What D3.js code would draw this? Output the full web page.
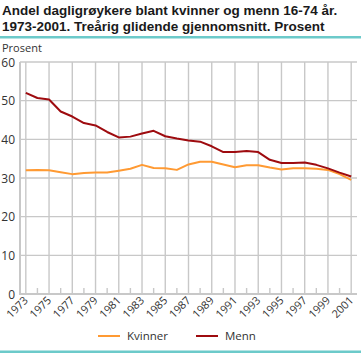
<!DOCTYPE html>
<html>
<head>
<meta charset="utf-8">
<script src="https://cdn.jsdelivr.net/npm/d3@7"></script>
<style>
  body { margin: 0; background: #fff; }
  text { font-family: "Open Sans", "DejaVu Sans", sans-serif; }
  text.title { font-family: "Liberation Sans", Arial, sans-serif; }
</style>
</head>
<body>
<div id="chart"></div>
<script>
// Data
var years = d3.range(1973, 2002);
var kvinner = [32.0, 32.1, 32.0, 31.5, 31.0, 31.3, 31.4, 31.4, 31.9, 32.4,
               33.4, 32.6, 32.5, 32.1, 33.5, 34.2, 34.2, 33.5, 32.8, 33.3,
               33.3, 32.7, 32.2, 32.5, 32.5, 32.4, 32.1, 31.0, 29.5];
var menn = [52.0, 50.7, 50.3, 47.2, 45.9, 44.2, 43.6, 41.9, 40.5, 40.7,
            41.5, 42.2, 40.8, 40.2, 39.7, 39.4, 38.2, 36.7, 36.7, 37.0,
            36.7, 34.7, 33.9, 33.9, 34.0, 33.4, 32.5, 31.4, 30.4];
var yTicks = [0, 10, 20, 30, 40, 50, 60];
var series = [
  { name: "Kvinner", values: kvinner, color: "#ff9a33" },
  { name: "Menn", values: menn, color: "#9e0b0f" }
];

var width = 361, height = 353;
var svg = d3.select("#chart").append("svg")
  .attr("width", width)
  .attr("height", height);

// Title
var title = svg.append("text").attr("class", "title")
  .attr("font-size", 13.5).attr("font-weight", "bold").attr("fill", "#1a1a1a");
title.append("tspan").attr("x", 2).attr("y", 15).text("Andel dagligrøykere blant kvinner og menn 16-74 år.");
title.append("tspan").attr("x", 2).attr("y", 31).text("1973-2001. Treårig glidende gjennomsnitt. Prosent");

// teal rules top and bottom
svg.append("rect").attr("x", 0).attr("y", 36).attr("width", width).attr("height", 2.5).attr("fill", "#6ccaca");
svg.append("rect").attr("x", 0).attr("y", 350.5).attr("width", width).attr("height", 2.5).attr("fill", "#6ccaca");

// scales
var x = d3.scaleLinear().domain([1972.5, 2001.5]).range([20, 357]);
var y = d3.scaleLinear().domain([0, 60]).range([294, 62]);

var grid = "#c8c8c8";

// horizontal grid
svg.append("g").selectAll("line").data(yTicks).enter().append("line")
  .attr("x1", 20).attr("x2", 357)
  .attr("y1", function(d){ return y(d); })
  .attr("y2", function(d){ return y(d); })
  .attr("stroke", grid)
  .attr("stroke-width", function(d){ return d === 0 ? 2 : 1.4; });

// vertical grid on odd years
svg.append("g").selectAll("line").data(years.filter(function(d){ return d % 2 === 1; })).enter().append("line")
  .attr("x1", function(d){ return x(d); }).attr("x2", function(d){ return x(d); })
  .attr("y1", 62).attr("y2", 294)
  .attr("stroke", grid).attr("stroke-width", 1.4);

// small ticks on even years
svg.append("g").selectAll("line").data(years.filter(function(d){ return d % 2 === 0; })).enter().append("line")
  .attr("x1", function(d){ return x(d); }).attr("x2", function(d){ return x(d); })
  .attr("y1", 288).attr("y2", 294)
  .attr("stroke", grid).attr("stroke-width", 1.4);

// y axis line
svg.append("line").attr("x1", 20).attr("x2", 20).attr("y1", 62).attr("y2", 295)
  .attr("stroke", grid).attr("stroke-width", 2);

// y tick labels
svg.append("g").selectAll("text").data(yTicks).enter().append("text")
  .attr("x", 15).attr("y", function(d){ return y(d) + 4.5; })
  .attr("text-anchor", "end").attr("font-size", 12).attr("fill", "#333")
  .text(function(d){ return d; });

svg.append("text").attr("x", 2).attr("y", 52).attr("font-size", 11).attr("fill", "#333").text("Prosent");

// x labels, rotated
svg.append("g").selectAll("text").data(years.filter(function(d){ return d % 2 === 1; })).enter().append("text")
  .attr("transform", function(d){ return "translate(" + (x(d) + 3) + ",301) rotate(-45)"; })
  .attr("text-anchor", "end").attr("font-size", 11).attr("fill", "#333")
  .text(function(d){ return d; });

// lines
var line = d3.line()
  .x(function(d, i){ return x(years[i]); })
  .y(function(d){ return y(d); });

svg.append("g").selectAll("path").data(series).enter().append("path")
  .attr("d", function(s){ return line(s.values); })
  .attr("fill", "none")
  .attr("stroke", function(s){ return s.color; })
  .attr("stroke-width", 2)
  .attr("stroke-linejoin", "round");

// legend
var legX = [98, 196];
var leg = svg.append("g").selectAll("g").data(series).enter().append("g")
  .attr("transform", function(s, i){ return "translate(" + legX[i] + ",336)"; });
leg.append("line").attr("x1", 0).attr("x2", 22).attr("y1", 0).attr("y2", 0)
  .attr("stroke", function(s){ return s.color; }).attr("stroke-width", 2);
leg.append("text").attr("x", 29).attr("y", 4).attr("font-size", 11.5).attr("fill", "#333")
  .text(function(s){ return s.name; });
</script>
</body>
</html>
